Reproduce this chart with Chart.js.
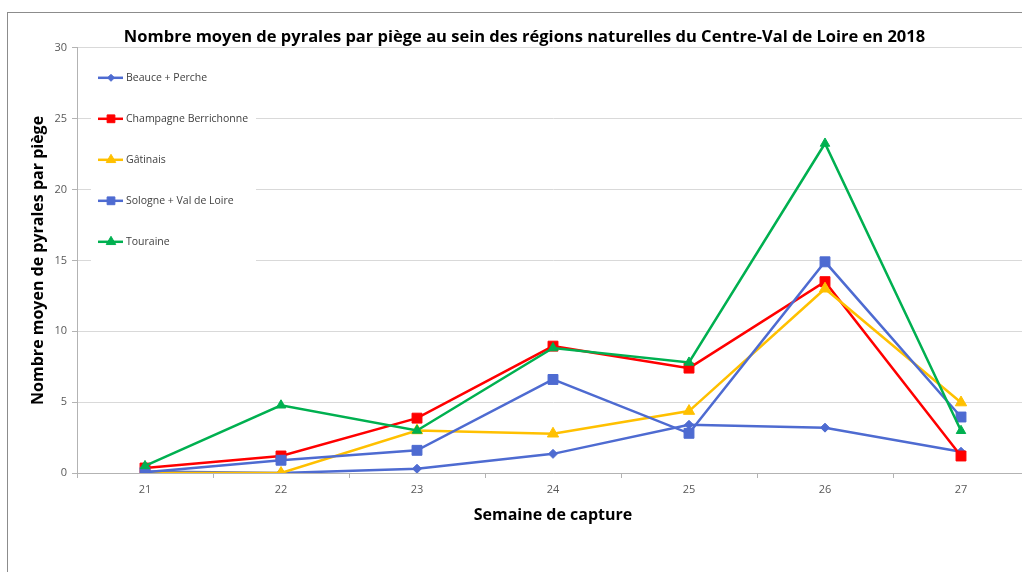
<!DOCTYPE html>
<html>
<head>
<meta charset="utf-8">
<script src="https://cdn.jsdelivr.net/npm/chart.js@4/dist/chart.umd.min.js"></script>
<style>
    html, body { margin: 0; padding: 0; background: #fff; overflow: hidden; }
    #frame {
        position: absolute; left: 7px; top: 12px; width: 1040px; height: 600px;
        border-left: 1px solid #8c8c8c; border-top: 1px solid #8c8c8c;
    }
    #wrap { position: absolute; left: 0; top: 0; width: 1032px; height: 559px; }
</style>
</head>
<body>
<div id="frame"><div id="wrap"><canvas id="chart"></canvas></div></div>
<script>
'use strict';

// semaines de capture
const weeks = ['21', '22', '23', '24', '25', '26', '27'];

// nombre moyen de pyrales par piège
const beauce = [0.1, 0.0, 0.3, 1.35, 3.4, 3.2, 1.5];
const champagne = [0.35, 1.2, 3.87, 8.95, 7.4, 13.5, 1.2];
const gatinais = [0.0, 0.0, 3.0, 2.77, 4.37, 13.0, 4.97];
const sologne = [0.05, 0.9, 1.6, 6.6, 2.8, 14.9, 3.95];
const touraine = [0.5, 4.78, 3.0, 8.82, 7.8, 23.25, 2.98];

const seriesNames = ['Beauce + Perche', 'Champagne Berrichonne', 'Gâtinais', 'Sologne + Val de Loire', 'Touraine'];

const BLUE = '#4e6bd1';
const fontFamily = '"Open Sans", "Liberation Sans", sans-serif';

function makeSet(i, data, color, style, radius) {
    return {
        label: seriesNames[i],
        data: data,
        borderColor: color,
        backgroundColor: color,
        borderWidth: 2.5,
        pointStyle: style,
        pointRadius: radius,
        pointBorderWidth: 1,
        pointHoverRadius: radius,
        tension: 0,
        order: 5 - i
    };
}

const datasets = [
    makeSet(0, beauce, BLUE, 'rectRot', 4.5),
    makeSet(1, champagne, '#ff0000', 'rect', 7),
    makeSet(2, gatinais, '#ffc000', 'triangle', 6.5),
    makeSet(3, sologne, BLUE, 'rect', 7),
    makeSet(4, touraine, '#00b050', 'triangle', 5.5)
];

// legend drawn inside the plot area, on a white box
const insideLegend = {
    id: 'insideLegend',
    beforeDatasetsDraw(chart) {
        const ctx = chart.ctx;
        const area = chart.chartArea;
        const x0 = area.left;
        const y0 = area.top;
        ctx.save();
        ctx.fillStyle = '#ffffff';
        ctx.fillRect(x0 + 14, y0 + 11, 165, 206);
        chart.data.datasets.forEach((ds, i) => {
            const y = y0 + 30 + i * 41;
            ctx.strokeStyle = ds.borderColor;
            ctx.fillStyle = ds.backgroundColor;
            ctx.lineWidth = 2.5;
            ctx.beginPath();
            ctx.moveTo(x0 + 21, y);
            ctx.lineTo(x0 + 46, y);
            ctx.stroke();
            ctx.lineWidth = 1;
            const r = ds.pointStyle === 'rectRot' ? 3.5 : 5.5;
            Chart.helpers.drawPoint(ctx, { pointStyle: ds.pointStyle, radius: r, rotation: 0, borderWidth: 1 }, x0 + 34, y);
            ctx.fillStyle = '#404040';
            ctx.font = '10.5px ' + fontFamily;
            ctx.textBaseline = 'middle';
            ctx.textAlign = 'left';
            ctx.fillText(ds.label, x0 + 49, y);
        });
        ctx.restore();
    }
};

new Chart(document.getElementById('chart'), {
    type: 'line',
    data: { labels: weeks, datasets: datasets },
    plugins: [insideLegend],
    options: {
        responsive: true,
        maintainAspectRatio: false,
        animation: false,
        layout: { padding: { left: 12, right: 11, top: 0, bottom: 0 } },
        plugins: {
            legend: { display: false },
            tooltip: { enabled: false },
            title: {
                display: true,
                text: 'Nombre moyen de pyrales par piège au sein des régions naturelles du Centre-Val de Loire en 2018',
                color: '#000',
                font: { family: fontFamily, size: 16.5, weight: 'bold', lineHeight: 1.2 },
                padding: { top: 14, bottom: 1 }
            }
        },
        scales: {
            x: {
                offset: true,
                afterFit(scale) { scale.height = 99; },
                grid: {
                    offset: true,
                    drawOnChartArea: false,
                    drawTicks: true,
                    tickLength: 5,
                    color: '#b3b3b3'
                },
                border: { color: '#b3b3b3', width: 1 },
                ticks: {
                    color: '#595959',
                    font: { family: fontFamily, size: 11 },
                    padding: 5,
                    maxRotation: 0
                },
                title: {
                    display: true,
                    text: 'Semaine de capture',
                    color: '#000',
                    font: { family: fontFamily, size: 16, weight: 'bold', lineHeight: 1.2 },
                    padding: { top: 4, bottom: 47 }
                }
            },
            y: {
                min: 0,
                max: 30,
                afterFit(scale) { scale.width = 57; },
                grid: {
                    color: '#d9d9d9',
                    tickColor: '#b3b3b3',
                    tickLength: 5,
                    lineWidth: 1
                },
                border: { color: '#b3b3b3', width: 1 },
                ticks: {
                    stepSize: 5,
                    color: '#595959',
                    font: { family: fontFamily, size: 11 },
                    padding: 5
                },
                title: {
                    display: true,
                    text: 'Nombre moyen de pyrales par piège',
                    color: '#000',
                    font: { family: fontFamily, size: 16, weight: 'bold', lineHeight: 1.2 },
                    padding: { top: 9, bottom: 0 }
                }
            }
        }
    }
});
</script>
</body>
</html>
